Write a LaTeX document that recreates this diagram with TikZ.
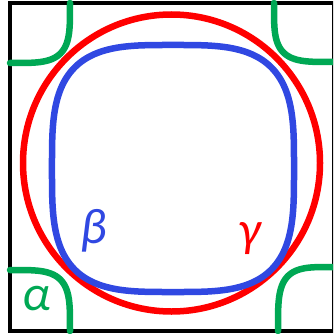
\documentclass[tikz,border=0pt]{standalone}
\usepackage{fontspec}
\setmainfont{Carlito}
\definecolor{alphagreen}{RGB}{0,168,84}
\definecolor{betablue}{RGB}{48,72,226}
\definecolor{gammared}{RGB}{255,0,0}
\begin{document}
\begin{tikzpicture}[x=1pt, y=-1pt,
    band/.style={line width=6.5pt, line cap=round, line join=round},
    bandlabel/.style={font=\itshape\fontsize{50}{50}\selectfont, inner sep=0pt}]
    \useasboundingbox (0,0) rectangle (333,334);
    \clip (0,0) rectangle (333,334);

    % Draw zone boundary
    \draw[line width=3.5pt] (10,3) rectangle (334,331);

    % Draw gamma sheet
    \draw[band, gammared] (171.5,163) circle[radius=148.5];

    % Draw beta sheet
    \draw[band, betablue] plot[domain=1:359, samples=180, smooth cycle]
        ({173 + 121*cos(\x)*(abs(cos(\x))^3.4 + abs(sin(\x))^3.4)^(-1/3.4)},
         {168.5 + 123.5*sin(\x)*(abs(cos(\x))^3.4 + abs(sin(\x))^3.4)^(-1/3.4)});

    % Draw alpha pockets at the corners
    \draw[band, alphagreen] plot[domain=0:90, samples=61]
        ({10 + 60*cos(\x)/sqrt(sqrt(cos(\x)^4 + sin(\x)^4))},
         {3 + 60*sin(\x)/sqrt(sqrt(cos(\x)^4 + sin(\x)^4))});
    \draw[band, alphagreen] plot[domain=90:180, samples=61]
        ({334 + 60*cos(\x)/sqrt(sqrt(cos(\x)^4 + sin(\x)^4))},
         {3 + 59*sin(\x)/sqrt(sqrt(cos(\x)^4 + sin(\x)^4))});
    \draw[band, alphagreen] plot[domain=270:360, samples=61]
        ({10 + 60*cos(\x)/sqrt(sqrt(cos(\x)^4 + sin(\x)^4))},
         {331 + 61*sin(\x)/sqrt(sqrt(cos(\x)^4 + sin(\x)^4))});
    \draw[band, alphagreen] plot[domain=180:270, samples=61]
        ({334 + 56*cos(\x)/sqrt(sqrt(cos(\x)^4 + sin(\x)^4))},
         {331 + 64*sin(\x)/sqrt(sqrt(cos(\x)^4 + sin(\x)^4))});

    % Label sheets
    \node[bandlabel, text=betablue] (betalabel) at (94,231) {β};
    \node[bandlabel, text=gammared] (gammalabel) at (250,239) {γ};
    \node[bandlabel, text=alphagreen] (alphalabel) at (37,299) {α};
\end{tikzpicture}
\end{document}
